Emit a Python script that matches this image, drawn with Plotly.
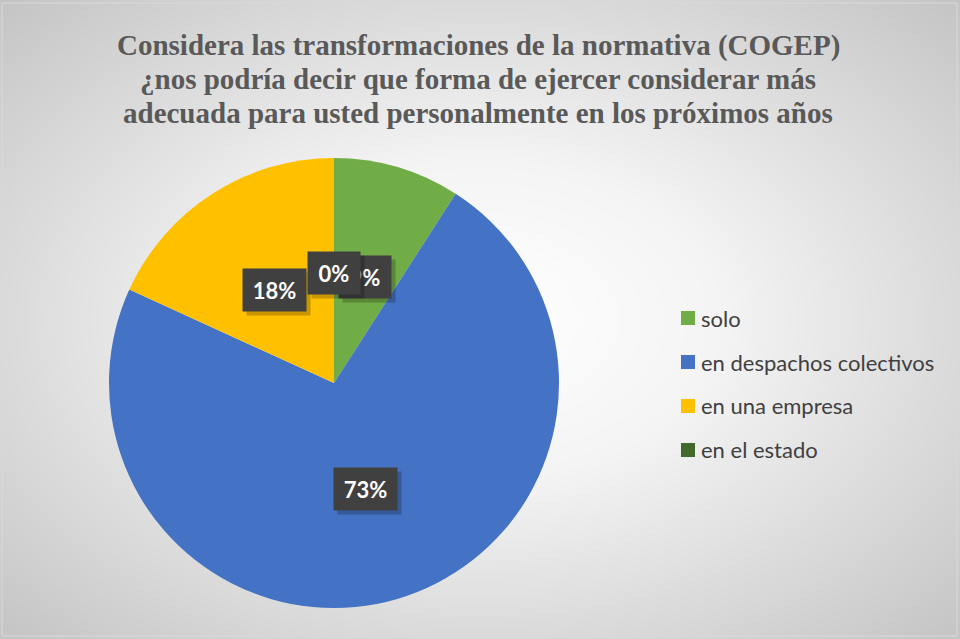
import numpy as np
import plotly.graph_objects as go

# Survey answers (counts) and their labels
categories = ["solo", "en despachos colectivos", "en una empresa", "en el estado"]
counts = [1, 8, 2, 0]
colors = ["#70AD47", "#4472C4", "#FFC000", "#43682B"]

title_lines = [
    "Considera las transformaciones de la normativa (COGEP)",
    "¿nos podría decir que forma de ejercer considerar más",
    "adecuada para usted personalmente en los próximos años",
]

W, H = 960, 639
# Pie placement in pixels (center and radius)
CX, CY, R = 334, 383, 225

fig = go.Figure()

# Radial grey-to-white background drawn on a hidden cartesian layer
gx = np.linspace(0, 1, 97)
gy = np.linspace(0, 1, 65)
GX, GY = np.meshgrid(gx, gy)
dist = np.sqrt(((GX - 0.5) / 0.5) ** 2 + ((GY - 0.5) / 0.5) ** 2) / np.sqrt(2)
fig.add_trace(go.Heatmap(
    x=gx, y=gy, z=dist, zmin=0, zmax=1, zsmooth="best",
    colorscale=[[0, "#ffffff"], [0.35, "#f4f4f4"], [1, "#c4c4c4"]],
    showscale=False, hoverinfo="skip",
))

fig.add_trace(go.Pie(
    labels=categories, values=counts, sort=False, direction="clockwise",
    rotation=0, marker=dict(colors=colors, line=dict(width=0)),
    textinfo="none", hoverinfo="label+percent", showlegend=False,
    domain=dict(x=[(CX - R) / W, (CX + R) / W], y=[1 - (CY + R) / H, 1 - (CY - R) / H]),
))

annotations = []
shapes = []

# Data labels: dark boxes at mid-angle of each slice, half radius out
total = sum(counts)
cum = 0.0
label_specs = []
for name, v in zip(categories, counts):
    frac = v / total
    mid = (cum + frac / 2) * 2 * np.pi
    cum += frac
    r = 0.49 * R
    px = CX + r * np.sin(mid)
    py = CY - r * np.cos(mid)
    label_specs.append((px, py, f"{round(frac * 100)}%"))

for px, py, txt in label_specs:
    bw = 52 if len(txt) == 2 else 63
    # drop shadow
    annotations.append(dict(
        x=(px + 4) / W, y=1 - (py + 4) / H, xref="paper", yref="paper",
        xanchor="center", yanchor="middle",
        text=" ", showarrow=False, width=bw, height=42,
        bgcolor="rgba(0,0,0,0.22)", borderpad=0,
    ))
    annotations.append(dict(
        x=px / W, y=1 - py / H, xref="paper", yref="paper",
        xanchor="center", yanchor="middle",
        text=f"<b>{txt}</b>", showarrow=False, width=bw, height=42,
        bgcolor="#404040", borderpad=0,
        font=dict(family="Lato", size=22, color="#ffffff"),
    ))

# Title
for i, line in enumerate(title_lines):
    annotations.append(dict(
        x=478 / W, y=1 - (45 + i * 34) / H, xref="paper", yref="paper",
        text=f"<b>{line}</b>", showarrow=False, xanchor="center", yanchor="middle",
        font=dict(family="Liberation Serif, Times New Roman, serif", size=29, color="#595959"),
    ))

# Legend panel
shapes.append(dict(
    type="rect", xref="paper", yref="paper",
    x0=668 / W, x1=946 / W, y0=1 - 474 / H, y1=1 - 294 / H,
    fillcolor="rgba(255,255,255,0.45)", line=dict(width=0), layer="below",
))
for i, (name, c) in enumerate(zip(categories, colors)):
    yc = 318 + i * 44
    shapes.append(dict(
        type="rect", xref="paper", yref="paper",
        x0=681 / W, x1=695 / W, y0=1 - (yc + 7) / H, y1=1 - (yc - 7) / H,
        fillcolor=c, line=dict(width=0),
    ))
    annotations.append(dict(
        x=699 / W, y=1 - yc / H, xref="paper", yref="paper",
        text=name, showarrow=False, xanchor="left", yanchor="middle",
        font=dict(family="Lato", size=22, color="#404040"),
    ))

# Outer frame
shapes.append(dict(
    type="rect", xref="paper", yref="paper", x0=2 / W, x1=957 / W, y0=1 - 636 / H, y1=1 - 3 / H,
    line=dict(color="#d9d9d9", width=1), fillcolor="rgba(0,0,0,0)",
))

fig.update_layout(
    width=W, height=H, margin=dict(l=0, r=0, t=0, b=0),
    paper_bgcolor="#d0d0d0", plot_bgcolor="#d0d0d0",
    xaxis=dict(visible=False, range=[0, 1], domain=[0, 1], fixedrange=True),
    yaxis=dict(visible=False, range=[0, 1], domain=[0, 1], fixedrange=True),
    annotations=annotations, shapes=shapes, showlegend=False,
)

fig.write_html("out.html")
